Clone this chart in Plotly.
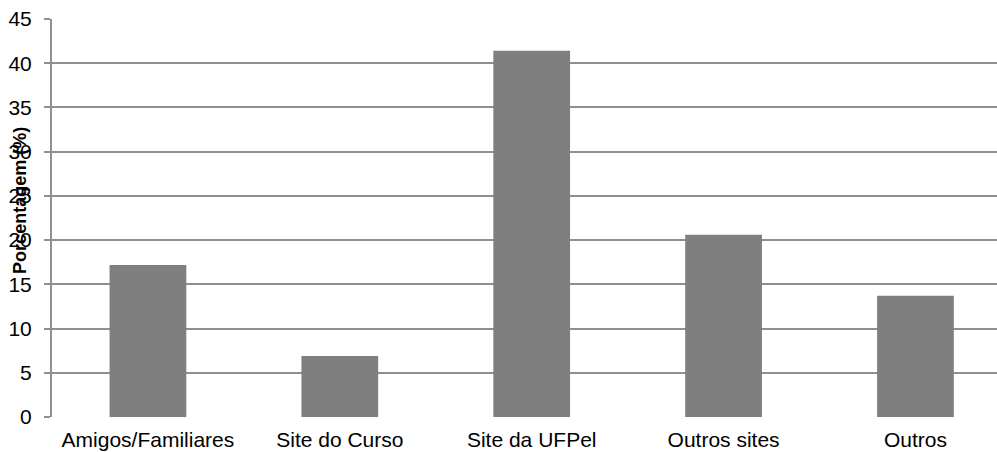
import plotly.graph_objects as go

categories = ["Amigos/Familiares", "Site do Curso", "Site da UFPel", "Outros sites", "Outros"]
values = [17.2, 6.9, 41.4, 20.6, 13.7]
y_ticks = [0, 5, 10, 15, 20, 25, 30, 35, 40, 45]
y_title = "Porcentagem (%)"

fig = go.Figure(go.Bar(
    x=categories, y=values,
    marker=dict(color="#7f7f7f", line=dict(width=0)),
    width=0.4,
))

font_family = "Liberation Sans, Arial, sans-serif"
fig.update_layout(
    width=997, height=452,
    margin=dict(l=52, r=0, t=19, b=35),
    plot_bgcolor="white", paper_bgcolor="white",
    showlegend=False,
    font=dict(family=font_family, size=21, color="#000"),
    xaxis=dict(
        range=[-0.5, 4.425], showgrid=False, zeroline=False,
        showline=False, ticks="", tickfont=dict(size=21),
        ticklabelstandoff=8,
    ),
    yaxis=dict(
        range=[0, 45], tickvals=y_ticks, showgrid=True,
        gridcolor="#8f8f8f", gridwidth=2, zeroline=False,
        showline=True, linecolor="#8f8f8f", linewidth=2,
        ticks="outside", ticklen=6, tickcolor="#8f8f8f", tickwidth=2,
        tickfont=dict(size=21), ticklabelstandoff=8,
    ),
    annotations=[dict(
        text="<b>" + y_title + "</b>", xref="paper", yref="paper",
        x=0, y=0.543, xanchor="center", yanchor="middle", xshift=-32,
        textangle=-90, showarrow=False, font=dict(size=18, family=font_family),
    )],
)
fig.write_html("out.html")
